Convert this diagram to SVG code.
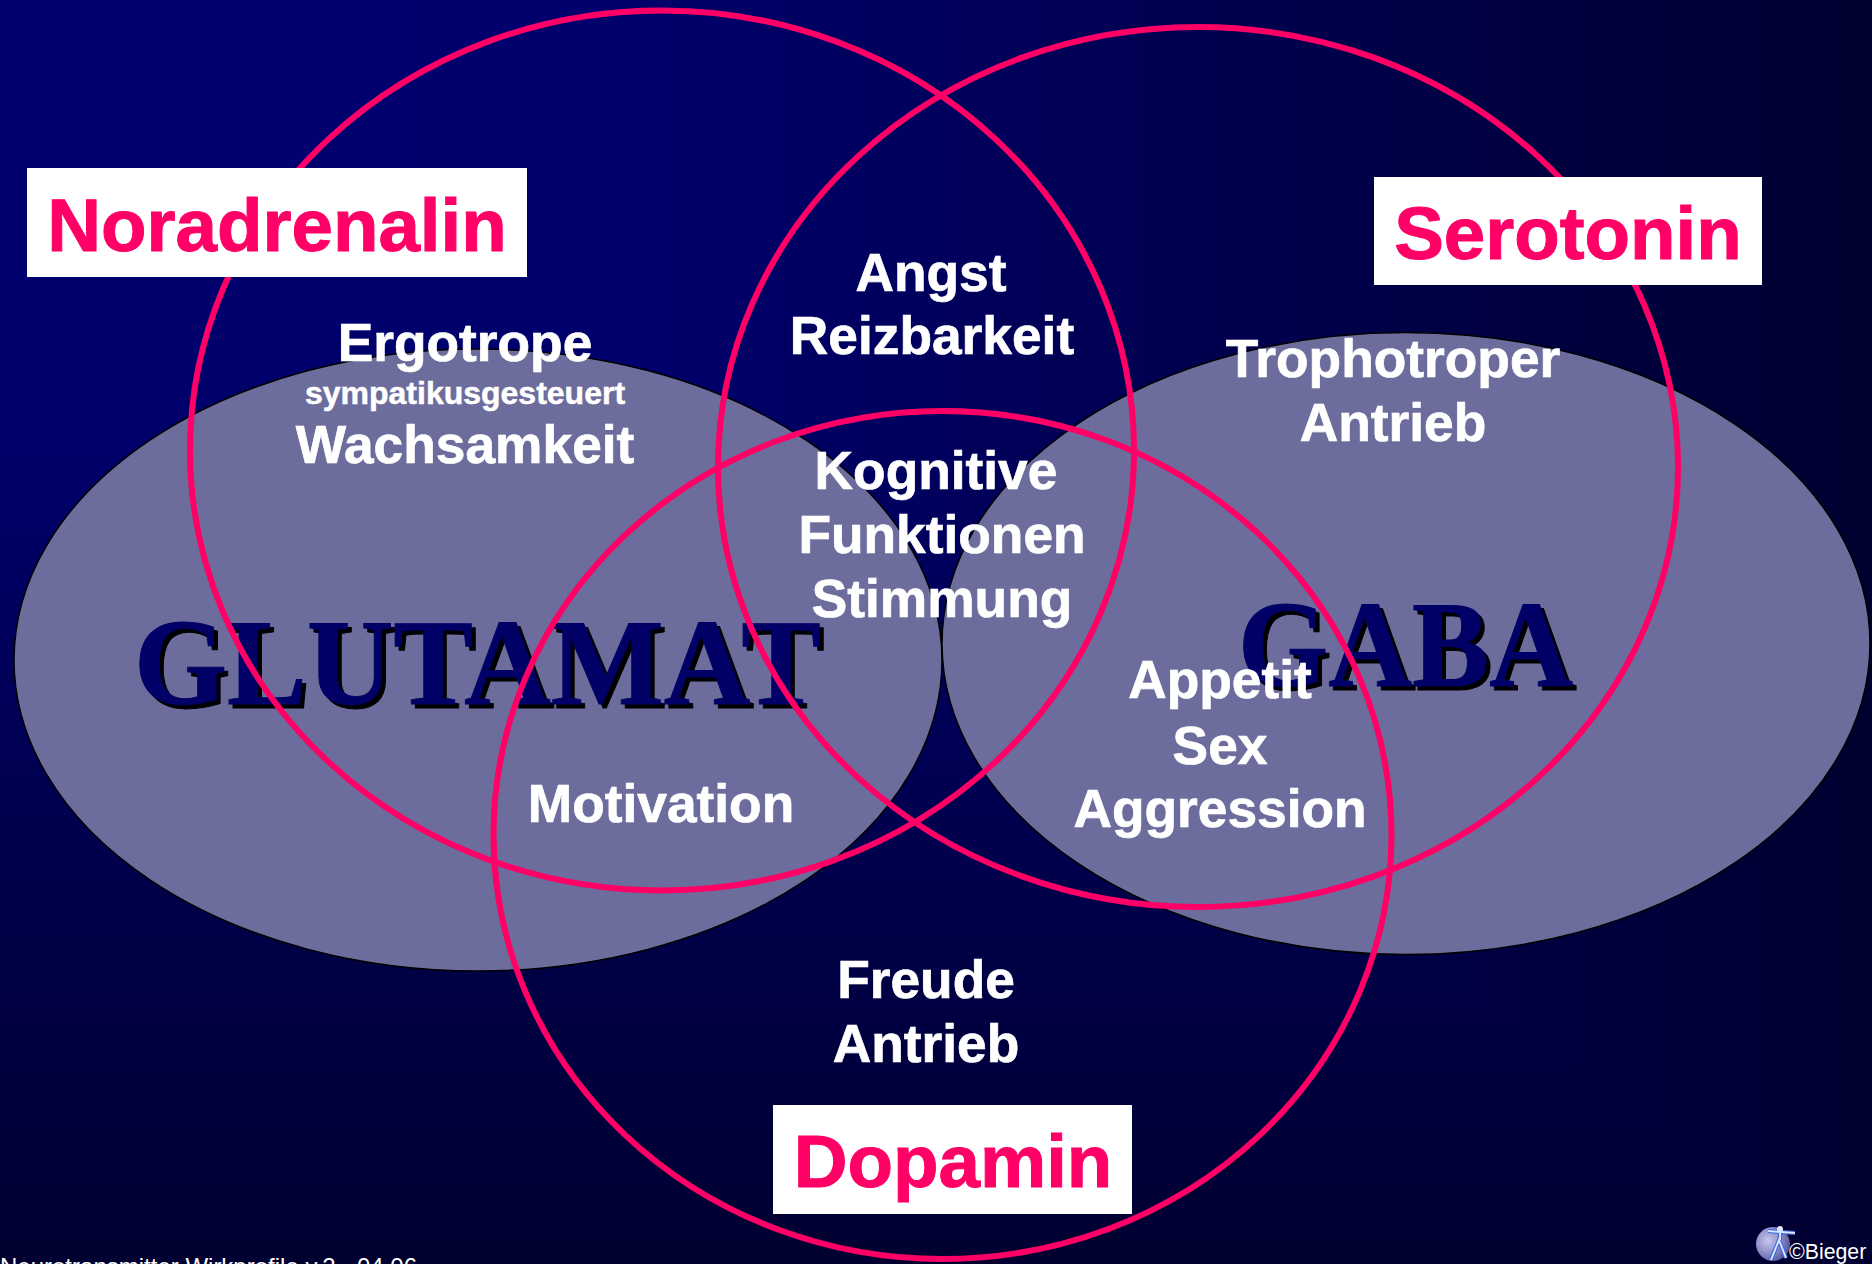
<svg xmlns="http://www.w3.org/2000/svg" width="1872" height="1264" viewBox="0 0 1872 1264">
<style>
.blob{fill:#6d6d9d;stroke:#000;stroke-width:1.5}
.ring{fill:none;stroke:#ff0066;stroke-width:6}
.box{fill:#fff}
text{font-family:"Liberation Sans",Arial,sans-serif;font-weight:bold;text-anchor:middle}
.t{fill:#fff;stroke:#fff;stroke-width:.7;font-size:53.300px}
.s{fill:#fff;stroke:#fff;stroke-width:.5;font-size:32px}
.n{fill:#ff0066;stroke:#ff0066;stroke-width:1;font-size:74.500px}
.big{font-family:"Liberation Serif","Times New Roman",serif;text-anchor:start;font-size:122px;stroke-width:1}
.sh{fill:#000;stroke:#000}
.fg{fill:#000066;stroke:#000066}
.foot{fill:#fff;font-weight:normal;font-size:24px;text-anchor:start}
</style>
<defs>
<linearGradient id="bgh" gradientUnits="userSpaceOnUse" x1="0" y1="0" x2="1872" y2="0">
<stop offset="0" stop-color="#000070"/><stop offset="0.33" stop-color="#00006c"/><stop offset="1" stop-color="#000030"/>
</linearGradient>
<linearGradient id="bgv" gradientUnits="userSpaceOnUse" x1="0" y1="0" x2="0" y2="1264">
<stop offset="0" stop-color="#000070"/><stop offset="0.33" stop-color="#00006c"/><stop offset="1" stop-color="#000030"/>
</linearGradient>
<radialGradient id="globe" cx="0.35" cy="0.4" r="0.75"><stop offset="0" stop-color="#c8c8ee"/><stop offset="0.6" stop-color="#8080c0"/><stop offset="1" stop-color="#44448c"/></radialGradient>
</defs>
<g id="background">
<rect width="1872" height="1264" fill="url(#bgv)"/>
<polygon points="0,0 1872,0 1872,1264" fill="url(#bgh)"/>
</g>
<g id="glutamat"><ellipse class="blob" cx="478" cy="660" rx="464" ry="311"/>
<text class="big sh" x="138" y="708" textLength="687" lengthAdjust="spacingAndGlyphs">GLUTAMAT</text><text class="big fg" x="134" y="704" textLength="687" lengthAdjust="spacingAndGlyphs">GLUTAMAT</text></g>
<g id="gaba"><ellipse class="blob" cx="1406" cy="643.500" rx="464" ry="311"/>
<text class="big sh" x="1242" y="690" textLength="335" lengthAdjust="spacingAndGlyphs">GABA</text><text class="big fg" x="1238" y="686" textLength="335" lengthAdjust="spacingAndGlyphs">GABA</text></g>
<g id="connectors">
<ellipse id="ring-noradrenalin" class="ring" cx="662" cy="450.500" rx="472" ry="440"/>
<ellipse id="ring-serotonin" class="ring" cx="1198" cy="467" rx="480" ry="440"/>
<ellipse id="ring-dopamin" class="ring" cx="942.500" cy="835" rx="449" ry="424"/>
</g>
<g id="noradrenalin"><rect class="box" x="27" y="168" width="500" height="109"/><text class="n" x="277" y="251">Noradrenalin</text></g>
<g id="serotonin"><rect class="box" x="1374" y="177" width="388" height="108"/><text class="n" x="1568" y="259">Serotonin</text></g>
<g id="dopamin"><rect class="box" x="773" y="1105" width="359" height="109"/><text class="n" x="953" y="1187">Dopamin</text></g>
<g id="ergotrope"><text class="t" x="465" y="361">Ergotrope</text><text class="s" x="465" y="404">sympatikusgesteuert</text><text class="t" x="465" y="463">Wachsamkeit</text></g>
<g id="angst"><text class="t" x="931" y="291">Angst</text><text class="t" x="932" y="354">Reizbarkeit</text></g>
<g id="kognitive"><text class="t" x="936" y="489">Kognitive</text><text class="t" x="942" y="553">Funktionen</text><text class="t" x="942" y="617">Stimmung</text></g>
<g id="trophotroper"><text class="t" x="1393" y="377">Trophotroper</text><text class="t" x="1393" y="441">Antrieb</text></g>
<g id="appetit"><text class="t" x="1220" y="698">Appetit</text><text class="t" x="1220" y="764">Sex</text><text class="t" x="1220" y="827">Aggression</text></g>
<g id="motivation"><text class="t" x="661" y="822">Motivation</text></g>
<g id="freude"><text class="t" x="926" y="998">Freude</text><text class="t" x="926" y="1062">Antrieb</text></g>
<g id="footer"><text class="foot" x="0" y="1275">Neurotransmitter Wirkprofile v.2 - 04.06</text></g>
<g id="logo"><circle cx="1773" cy="1244" r="17" fill="url(#globe)"/>
<path d="M1771 1260L1779 1240L1786 1258M1780 1240V1232M1768 1231L1795 1233" fill="none" stroke="#3a66d8" stroke-width="4"/>
<path d="M1771 1260L1779 1240L1786 1258M1780 1240V1232M1768 1231L1795 1233" fill="none" stroke="#d8e4ff" stroke-width="2"/><circle cx="1780" cy="1229" r="3" fill="#dde6ff"/>
<text x="1789" y="1259" fill="#fff" style="font-weight:normal;font-size:21.300px;text-anchor:start">©Bieger</text></g>
</svg>
